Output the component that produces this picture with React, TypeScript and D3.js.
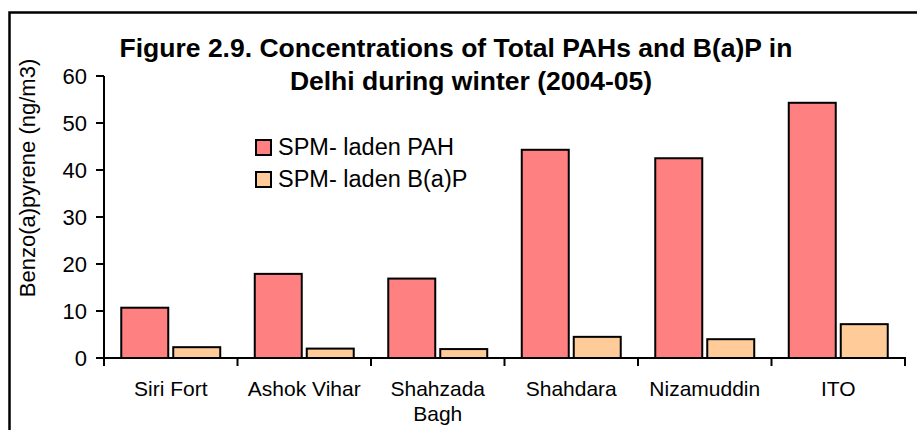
import * as d3 from 'd3';

const categories = ['Siri Fort', 'Ashok Vihar', 'Shahzada\nBagh', 'Shahdara', 'Nizamuddin', 'ITO'];
const pahValues = [10.7, 17.9, 16.9, 44.3, 42.5, 54.3];
const bapValues = [2.3, 2.0, 1.9, 4.5, 4.0, 7.2];
const seriesNames = ['SPM- laden PAH', 'SPM- laden B(a)P'];
const seriesColors = ['#FF8080', '#FFCC99'];
const yTicks = [0, 10, 20, 30, 40, 50, 60];

const W = 917;
const H = 430;
const font = 'Arial, "Liberation Sans", sans-serif';

const App = () => {
  const x = d3.scaleBand<string>().domain(categories).range([104, 905]);
  const y = d3.scaleLinear().domain([0, 60]).range([358, 76]);
  const bw = x.bandwidth() * 0.352;
  const gap = 5;
  const series = [pahValues, bapValues];

  return (
    <svg width={W} height={H} style={{ position: 'absolute', left: 0, top: 0 }}>
      <rect x={0} y={0} width={W} height={H} fill="#fff" />
      <rect x={9.5} y={12.5} width={W + 20} height={H + 20} fill="none" stroke="#000" strokeWidth={2.5} />

      <text x={456} y={57} textAnchor="middle" fontFamily={font} fontWeight="bold" fontSize={26.5}>
        Figure 2.9. Concentrations of Total PAHs and B(a)P in
      </text>
      <text x={471} y={90} textAnchor="middle" fontFamily={font} fontWeight="bold" fontSize={26.5}>
        Delhi during winter (2004-05)
      </text>

      <text transform={`translate(35,178) rotate(-90)`} textAnchor="middle" fontFamily={font} fontSize={22}>
        Benzo(a)pyrene (ng/m3)
      </text>

      {categories.map((c, i) => {
        const cx = (x(c) as number) + x.bandwidth() / 2;
        return series.map((vals, s) => {
          const bx = s === 0 ? cx - gap / 2 - bw : cx + gap / 2;
          return (
            <rect key={`${i}-${s}`} x={bx} y={y(vals[i])} width={bw} height={y(0) - y(vals[i])}
              fill={seriesColors[s]} stroke="#000" strokeWidth={2} />
          );
        });
      })}

      <line x1={104} x2={104} y1={y(60)} y2={y(0)} stroke="#000" strokeWidth={2} />
      {yTicks.map(t => (
        <g key={t}>
          <line x1={96} x2={104} y1={y(t)} y2={y(t)} stroke="#000" strokeWidth={2} />
          <text x={87} y={y(t) + 8} textAnchor="end" fontFamily={font} fontSize={22}>{t}</text>
        </g>
      ))}

      <line x1={104} x2={906} y1={y(0)} y2={y(0)} stroke="#000" strokeWidth={2} />
      {[...categories.map(c => x(c) as number), 905].map((tx, i) => (
        <line key={i} x1={tx} x2={tx} y1={y(0)} y2={y(0) + 8} stroke="#000" strokeWidth={2} />
      ))}
      {categories.map(c => {
        const cx = (x(c) as number) + x.bandwidth() / 2;
        return c.split('\n').map((ln, k) => (
          <text key={c + k} x={cx} y={396 + k * 25} textAnchor="middle" fontFamily={font} fontSize={21}>{ln}</text>
        ));
      })}

      {seriesNames.map((n, i) => (
        <g key={n}>
          <rect x={256} y={140 + i * 32} width={15} height={15} fill={seriesColors[i]} stroke="#000" strokeWidth={2} />
          <text x={278} y={155 + i * 32} fontFamily={font} fontSize={23.5}>{n}</text>
        </g>
      ))}
    </svg>
  );
};

export default App;
